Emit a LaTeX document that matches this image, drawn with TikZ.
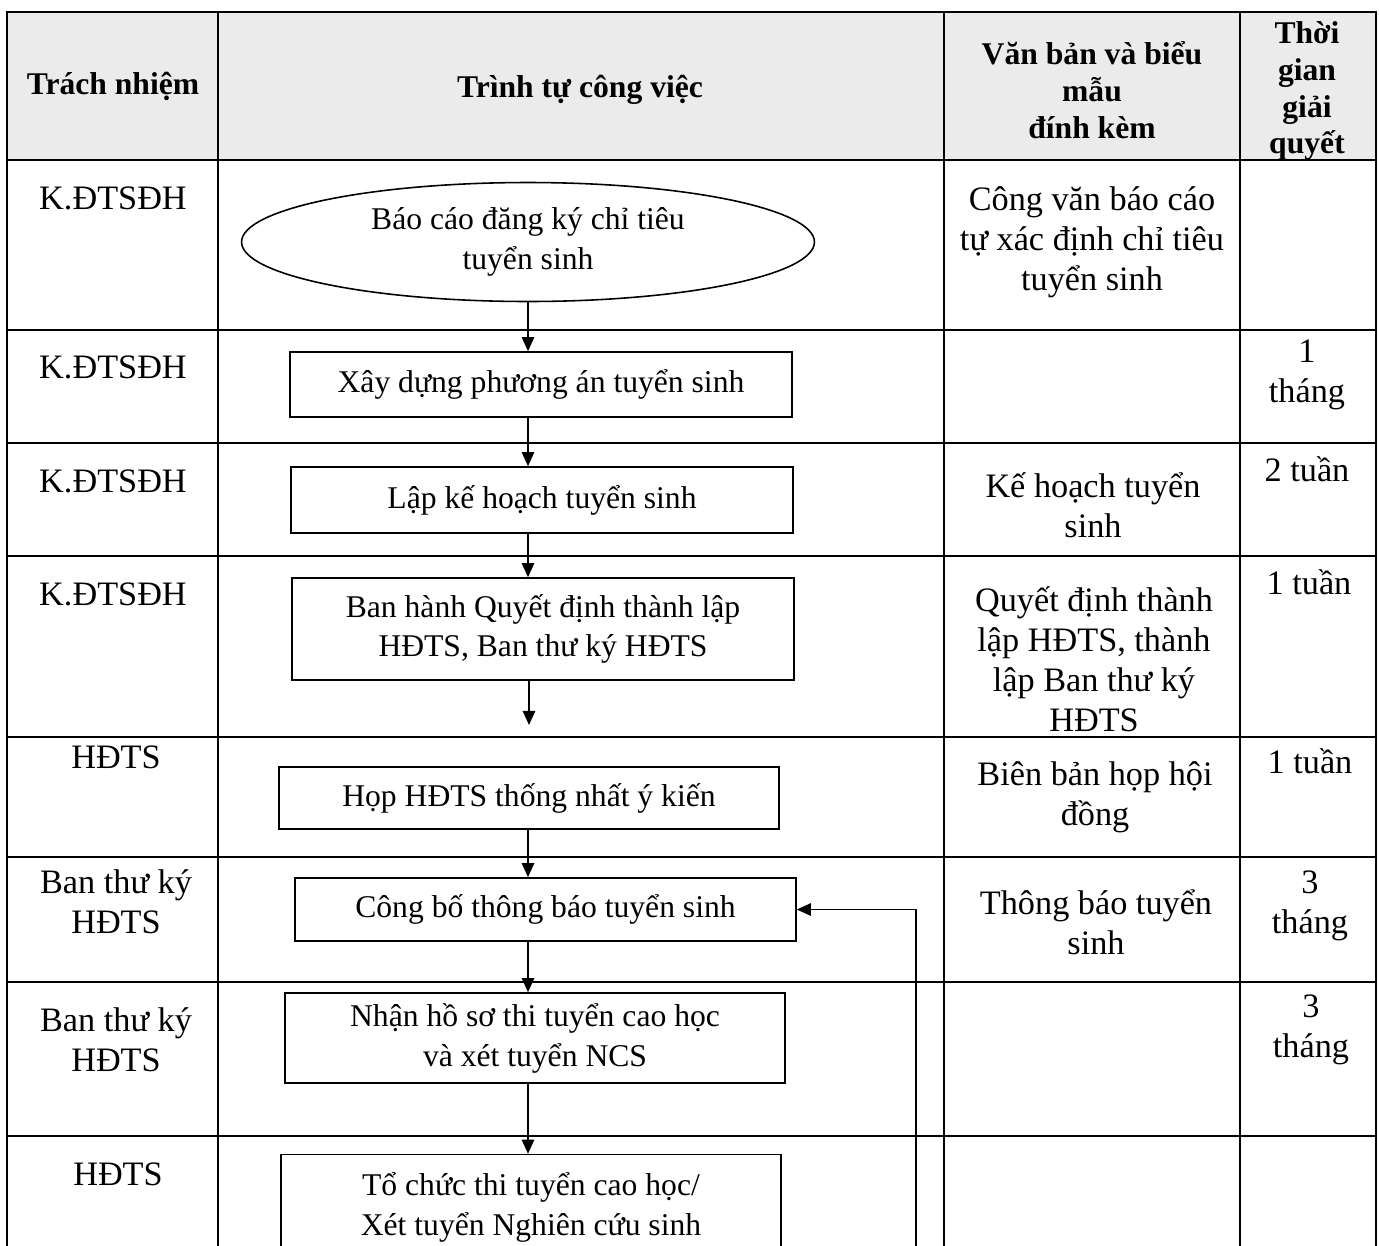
\documentclass[tikz,border=0pt]{standalone}
\usepackage{fontspec}
\setmainfont{Liberation Serif}
\usetikzlibrary{arrows.meta,shapes.geometric}

\begin{document}
\begin{tikzpicture}[x=0.02cm, y=-0.02cm, line width=0.9pt,
  >={Triangle[length=8pt,width=7pt]},
  head/.style={align=center, font=\bfseries\fontsize{18}{21}\selectfont},
  cell/.style={align=center, font=\fontsize{19.5}{22.7}\selectfont},
  stepbox/.style={draw, rectangle, align=center, inner sep=0pt, font=\fontsize{18}{22.7}\selectfont},
  flow/.style={->, line width=1pt}]
\useasboundingbox (0,0) rectangle (1379,1245);
\clip (0,0) rectangle (1379,1245);

% table
\fill[black!8] (7,12) rectangle (1376,160);
\draw (7,12) rectangle (1376,1300);
\foreach \y in {160,330,443,556,737,857,982,1136}
  \draw (7,\y) -- (1376,\y);
\foreach \x in {218,944,1240}
  \draw (\x,12) -- (\x,1300);

% header
\node[head] (h1) at (113,86) {Trách nhiệm};
\node[head] (h2) at (580,90) {Trình tự công việc};
\node[head] (h3) at (1092,90) {Văn bản và biểu\\mẫu\\đính kèm};
\node[head] (h4) at (1307,91) {Thời\\gian\\giải\\quyết};

% responsibility
\node[cell] (r1) at (113,198) {K.ĐTSĐH};
\node[cell] (r2) at (113,367) {K.ĐTSĐH};
\node[cell] (r3) at (113,481) {K.ĐTSĐH};
\node[cell] (r4) at (113,594) {K.ĐTSĐH};
\node[cell] (r5) at (116,757) {HĐTS};
\node[cell] (r6) at (116,902) {Ban thư ký\\HĐTS};
\node[cell] (r7) at (116,1040) {Ban thư ký\\HĐTS};
\node[cell] (r8) at (118,1174) {HĐTS};

% steps
\node[draw, ellipse, inner sep=0pt, minimum width=11.46cm, minimum height=2.38cm, align=center, font=\fontsize{18}{22.7}\selectfont] (a) at (528,242) {Báo cáo đăng ký chỉ tiêu\\tuyển sinh};
\node[stepbox, minimum width=10.04cm, minimum height=1.3cm] (b) at (541,384.5) {Xây dựng phương án tuyển sinh};
\node[stepbox, minimum width=10.04cm, minimum height=1.32cm] (c) at (542,500) {Lập kế hoạch tuyển sinh};
\node[stepbox, minimum width=10.04cm, minimum height=2.04cm] (d) at (543,629) {Ban hành Quyết định thành lập\\HĐTS, Ban thư ký HĐTS};
\node[stepbox, minimum width=10cm, minimum height=1.24cm] (e) at (529,798) {Họp HĐTS thống nhất ý kiến};
\node[stepbox, minimum width=10.02cm, minimum height=1.26cm] (f) at (545.5,909.5) {Công bố thông báo tuyển sinh};
\node[stepbox, minimum width=10cm, minimum height=1.8cm] (g) at (535,1038) {Nhận hồ sơ thi tuyển cao học\\và xét tuyển NCS};
\node[stepbox, minimum width=10cm, minimum height=2.1cm] (h) at (531,1207) {Tổ chức thi tuyển cao học/\\Xét tuyển Nghiên cứu sinh};

% documents
\node[cell] (v1) at (1092,242) {Công văn báo cáo\\tự xác định chỉ tiêu\\tuyển sinh};
\node[cell] (v3) at (1093,505) {Kế hoạch tuyển\\sinh};
\node[cell] (v4) at (1094,659) {Quyết định thành\\lập HĐTS, thành\\lập Ban thư ký\\HĐTS};
\node[cell] (v5) at (1095,797) {Biên bản họp hội\\đồng};
\node[cell] (v6) at (1096,922) {Thông báo tuyển\\sinh};

% time
\node[cell] (t2) at (1307,375) {1\\tháng};
\node[cell] (t3) at (1307,469) {2 tuần};
\node[cell] (t4) at (1309,582) {1 tuần};
\node[cell] (t5) at (1310,761) {1 tuần};
\node[cell] (t6) at (1310,906) {3\\tháng};
\node[cell] (t7) at (1311,1030) {3\\tháng};

% arrows
\coordinate (dend) at (529,725);
\coordinate (fb) at (916,1300);
\draw[flow] (a.south) -- (b.north -| a.south);
\draw[flow] (b.south -| a.south) -- (c.north -| a.south);
\draw[flow] (c.south -| a.south) -- (d.north -| a.south);
\draw[flow] (d.south -| dend) -- (dend);
\draw[flow] (e.south -| a.south) -- (f.north -| a.south);
\draw[flow] (f.south -| a.south) -- (g.north -| a.south);
\draw[flow] (g.south -| a.south) -- (h.north -| a.south);
\draw[flow] (fb) |- (f.east);
\end{tikzpicture}
\end{document}
